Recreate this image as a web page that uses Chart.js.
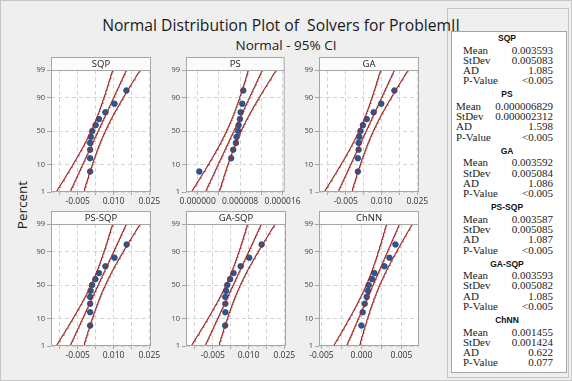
<!DOCTYPE html>
<html>
<head>
<meta charset="utf-8">
<script src="https://cdn.jsdelivr.net/npm/chart.js@4.4.0/dist/chart.umd.min.js"></script>
<style>
body { margin: 0; }
#page { position: relative; width: 572px; height: 381px; background: #efefef; overflow: hidden; font-family: "Open Sans", "DejaVu Sans", sans-serif; }
.abs { position: absolute; white-space: pre; }
canvas { position: absolute; }
</style>
</head>
<body>
<div id="page">
  <div class="abs" style="left:0;top:0;width:570px;height:379px;border:1px solid #c6c6c6;"></div>
  <div class="abs" style="left:447px;top:8px;width:120px;height:368px;border:1px solid #c4c4c4;"></div>
  <div class="abs" id="legendBox" style="left:451px;top:31px;width:114px;height:340px;background:#fff;border:1px solid #a4a4a4;"></div>
  <div class="abs" style="left:0;width:562px;top:14px;text-align:center;font-size:15.7px;color:#1a1a1a;z-index:5;">Normal Distribution Plot of  Solvers for ProblemII</div>
  <div class="abs" style="left:0;width:572px;top:36px;text-align:center;font-size:13.5px;color:#1a1a1a;">Normal - 95% CI</div>
  <div class="abs" style="left:-8px;top:196px;width:60px;text-align:center;font-size:13.5px;color:#222;transform:rotate(-90deg);">Percent</div>
</div>
<script>
// solvers and values
const solverNames = ['SQP', 'PS', 'GA', 'PS-SQP', 'GA-SQP', 'ChNN'];
const percentRanks = [6.1, 14.9, 23.7, 32.5, 41.2, 50.0, 58.8, 67.5, 76.3, 85.1, 93.9];
const sqpValues = [0.0002, 0.0002, 0.0002, 0.0002, 0.0005, 0.0011, 0.0025, 0.0039, 0.0066, 0.0104, 0.0154];
const psValues = [0.00000031, 0.00000632, 0.00000670, 0.00000721, 0.00000734, 0.00000765, 0.00000772, 0.00000797, 0.00000810, 0.00000841, 0.00000860];
const gaValues = [0.0001, 0.0001, 0.0004, 0.0004, 0.0007, 0.0012, 0.0022, 0.0038, 0.0067, 0.0099, 0.0154];
const psSqpValues = [0.0002, 0.0002, 0.0002, 0.0002, 0.0004, 0.0010, 0.0024, 0.0039, 0.0066, 0.0104, 0.0155];
const gaSqpValues = [0.0002, 0.0003, 0.0003, 0.0003, 0.0006, 0.0011, 0.0023, 0.0037, 0.0067, 0.0103, 0.0155];
const chnnValues = [0.0000, 0.00016, 0.00041, 0.00066, 0.00083, 0.00091, 0.00133, 0.00162, 0.00288, 0.00351, 0.00426];

// summary table
const meanText = ['0.003593', '0.000006829', '0.003592', '0.003587', '0.003593', '0.001455'];
const stdevText = ['0.005083', '0.000002312', '0.005084', '0.005085', '0.005082', '0.001424'];
const adText = ['1.085', '1.598', '1.086', '1.087', '1.085', '0.622'];
const pValueText = ['<0.005', '<0.005', '<0.005', '<0.005', '<0.005', '0.077'];

// axes
const yTickPercents = [1, 10, 50, 90, 99];
const xMins = [-0.0162, -0.0000022, -0.0053];
const xMaxs = [0.0257, 0.0000164, 0.0072];
const xGridValues = [
  [-0.0125, -0.005, 0.0025, 0.010, 0.0175, 0.025],
  [0, 0.000004, 0.000008, 0.000012, 0.000016],
  [-0.005, -0.0025, 0, 0.0025, 0.005]
];
const xTickValues = [[-0.005, 0.010, 0.025], [0, 0.000008, 0.000016], [-0.005, 0, 0.005]];
const xTickLabels = [['-0.005', '0.010', '0.025'], ['0.000000', '0.000008', '0.000016'], ['-0.005', '0.000', '0.005']];

const panelValues = [sqpValues, psValues, gaValues, psSqpValues, gaSqpValues, chnnValues];
const panelAxis = [0, 1, 0, 0, 0, 2];

const fontFam = '"Open Sans", "DejaVu Sans", sans-serif';

function probit(p) {
  const a = [-3.969683028665376e+01, 2.209460984245205e+02, -2.759285104469687e+02, 1.383577518672690e+02, -3.066479806614716e+01, 2.506628277459239e+00];
  const b = [-5.447609879822406e+01, 1.615858368580409e+02, -1.556989798598866e+02, 6.680131188771972e+01, -1.328068155288572e+01];
  const c = [-7.784894002430293e-03, -3.223964580411365e-01, -2.400758277161838e+00, -2.549732539343734e+00, 4.374664141464968e+00, 2.938163982698783e+00];
  const d = [7.784695709041462e-03, 3.224671290700398e-01, 2.445134137142996e+00, 3.754408661907416e+00];
  let q, r;
  if (p < 0.02425) {
    q = Math.sqrt(-2 * Math.log(p));
    return (((((c[0]*q+c[1])*q+c[2])*q+c[3])*q+c[4])*q+c[5]) / ((((d[0]*q+d[1])*q+d[2])*q+d[3])*q+1);
  }
  if (p > 1 - 0.02425) {
    q = Math.sqrt(-2 * Math.log(1 - p));
    return -(((((c[0]*q+c[1])*q+c[2])*q+c[3])*q+c[4])*q+c[5]) / ((((d[0]*q+d[1])*q+d[2])*q+d[3])*q+1);
  }
  q = p - 0.5; r = q * q;
  return (((((a[0]*r+a[1])*r+a[2])*r+a[3])*r+a[4])*r+a[5])*q / (((((b[0]*r+b[1])*r+b[2])*r+b[3])*r+b[4])*r+1);
}

const yMin = probit(0.01), yMax = probit(0.99);

// frame + header strip around each panel
const panelFrame = {
  id: 'panelFrame',
  beforeDraw(chart) {
    const { ctx, chartArea: a } = chart;
    ctx.save();
    ctx.fillStyle = '#ffffff';
    ctx.fillRect(a.left, a.top, a.right - a.left, a.bottom - a.top);
    ctx.restore();
  },
  afterDraw(chart, args, opts) {
    const { ctx, chartArea: a } = chart;
    ctx.save();
    ctx.strokeStyle = '#a6a6a6';
    ctx.lineWidth = 1;
    ctx.strokeRect(a.left + 0.5, a.top + 0.5, a.right - a.left - 1, a.bottom - a.top - 1);
    ctx.fillStyle = '#fbfbfb';
    ctx.fillRect(a.left, a.top - 13, a.right - a.left, 13);
    ctx.strokeRect(a.left + 0.5, a.top - 12.5, a.right - a.left - 1, 13);
    ctx.fillStyle = '#222';
    ctx.font = '9.5px ' + fontFam;
    ctx.textAlign = 'center';
    ctx.textBaseline = 'middle';
    ctx.fillText(opts.label, (a.left + a.right) / 2, a.top - 6);
    ctx.restore();
  }
};

const panelLefts = [51, 186, 319];
const panelTops = [70, 224];

solverNames.forEach(function (name, i) {
  const ax = panelAxis[i];
  const vals = panelValues[i];
  const n = vals.length;
  const mean = parseFloat(meanText[i]);
  const sd = parseFloat(stdevText[i]);

  const pts = vals.map(function (v, k) { return { x: v, y: probit(percentRanks[k] / 100) }; });
  const fit = [], lo = [], hi = [];
  for (let z = -2.7; z <= 2.71; z += 0.05) {
    const half = 1.96 * sd * Math.sqrt(1 / n + z * z / (2 * n));
    fit.push({ x: mean + z * sd, y: z });
    lo.push({ x: mean + z * sd - half, y: z });
    hi.push({ x: mean + z * sd + half, y: z });
  }

  const cv = document.createElement('canvas');
  const L = panelLefts[i % 3], T = panelTops[Math.floor(i / 3)];
  cv.width = 142; cv.height = 152;
  cv.style.left = (L - 26) + 'px';
  cv.style.top = (T - 14) + 'px';
  document.getElementById('page').appendChild(cv);

  const lineDs = function (d) {
    return { data: d, showLine: true, pointRadius: 0, borderColor: '#9c2b26', borderWidth: 1.2, fill: false, clip: 0 };
  };

  new Chart(cv.getContext('2d'), {
    type: 'scatter',
    data: {
      datasets: [
        lineDs(lo), lineDs(fit), lineDs(hi),
        { data: pts, pointRadius: 2.8, pointBackgroundColor: '#2a5895', pointBorderColor: '#1f467a', pointBorderWidth: 0.8 }
      ]
    },
    options: {
      responsive: false,
      animation: false,
      devicePixelRatio: 1,
      layout: { padding: { top: 14, right: 16, left: 0, bottom: 0 } },
      plugins: { legend: { display: false }, tooltip: { enabled: false }, panelFrame: { label: name } },
      scales: {
        x: {
          type: 'linear', min: xMins[ax], max: xMaxs[ax],
          afterBuildTicks: function (s) { s.ticks = xGridValues[ax].map(function (v) { return { value: v }; }); },
          afterFit: function (s) { s.height = 16; },
          ticks: {
            autoSkip: false, maxRotation: 0, padding: 1, color: '#333',
            font: { size: 8.5, family: fontFam },
            callback: function (value) {
              const tol = (xMaxs[ax] - xMins[ax]) * 1e-3;
              const k = xTickValues[ax].findIndex(function (t) { return Math.abs(t - value) < tol; });
              return k >= 0 ? xTickLabels[ax][k] : '';
            }
          },
          grid: { color: '#d4d4d4', tickLength: 3, tickColor: '#a6a6a6' },
          border: { display: false, dash: [4, 3] }
        },
        y: {
          type: 'linear', min: yMin, max: yMax,
          afterBuildTicks: function (s) { s.ticks = yTickPercents.map(function (p) { return { value: probit(p / 100) }; }); },
          afterFit: function (s) { s.width = 26; },
          ticks: {
            autoSkip: false, padding: 2, color: '#444',
            font: { size: 7.5, family: fontFam },
            callback: function (value, index) { return String(yTickPercents[index]); }
          },
          grid: { color: '#d4d4d4', tickLength: 4, tickColor: '#a6a6a6' },
          border: { display: false, dash: [4, 3] }
        }
      }
    },
    plugins: [panelFrame]
  });
});

// summary box
const box = document.getElementById('page');
function addText(txt, x, y, style) {
  const el = document.createElement('div');
  el.className = 'abs';
  el.textContent = txt;
  el.style.cssText += 'top:' + (y - 7) + 'px;height:14px;line-height:14px;' + style;
  if (x !== null) el.style.left = x + 'px';
  box.appendChild(el);
  return el;
}
const rowNames = ['Mean', 'StDev', 'AD', 'P-Value'];
const rowOffsets = [11.5, 21.8, 32, 42.3];
solverNames.forEach(function (name, i) {
  const hy = 38 + 56.4 * i;
  addText(name, 455, hy, 'width:104px;text-align:center;font-family:"Liberation Sans",sans-serif;font-weight:bold;font-size:8.5px;color:#111;');
  const vals = [meanText[i], stdevText[i], adText[i], pValueText[i]];
  const lx = i === 1 ? 456 : 463;
  rowNames.forEach(function (r, k) {
    addText(r, lx, hy + rowOffsets[k], 'font-family:"Liberation Serif",serif;font-size:11px;color:#222;');
    addText(vals[k], null, hy + rowOffsets[k], 'right:19px;text-align:right;font-family:"Liberation Serif",serif;font-size:11px;color:#222;');
  });
});
</script>
</body>
</html>
